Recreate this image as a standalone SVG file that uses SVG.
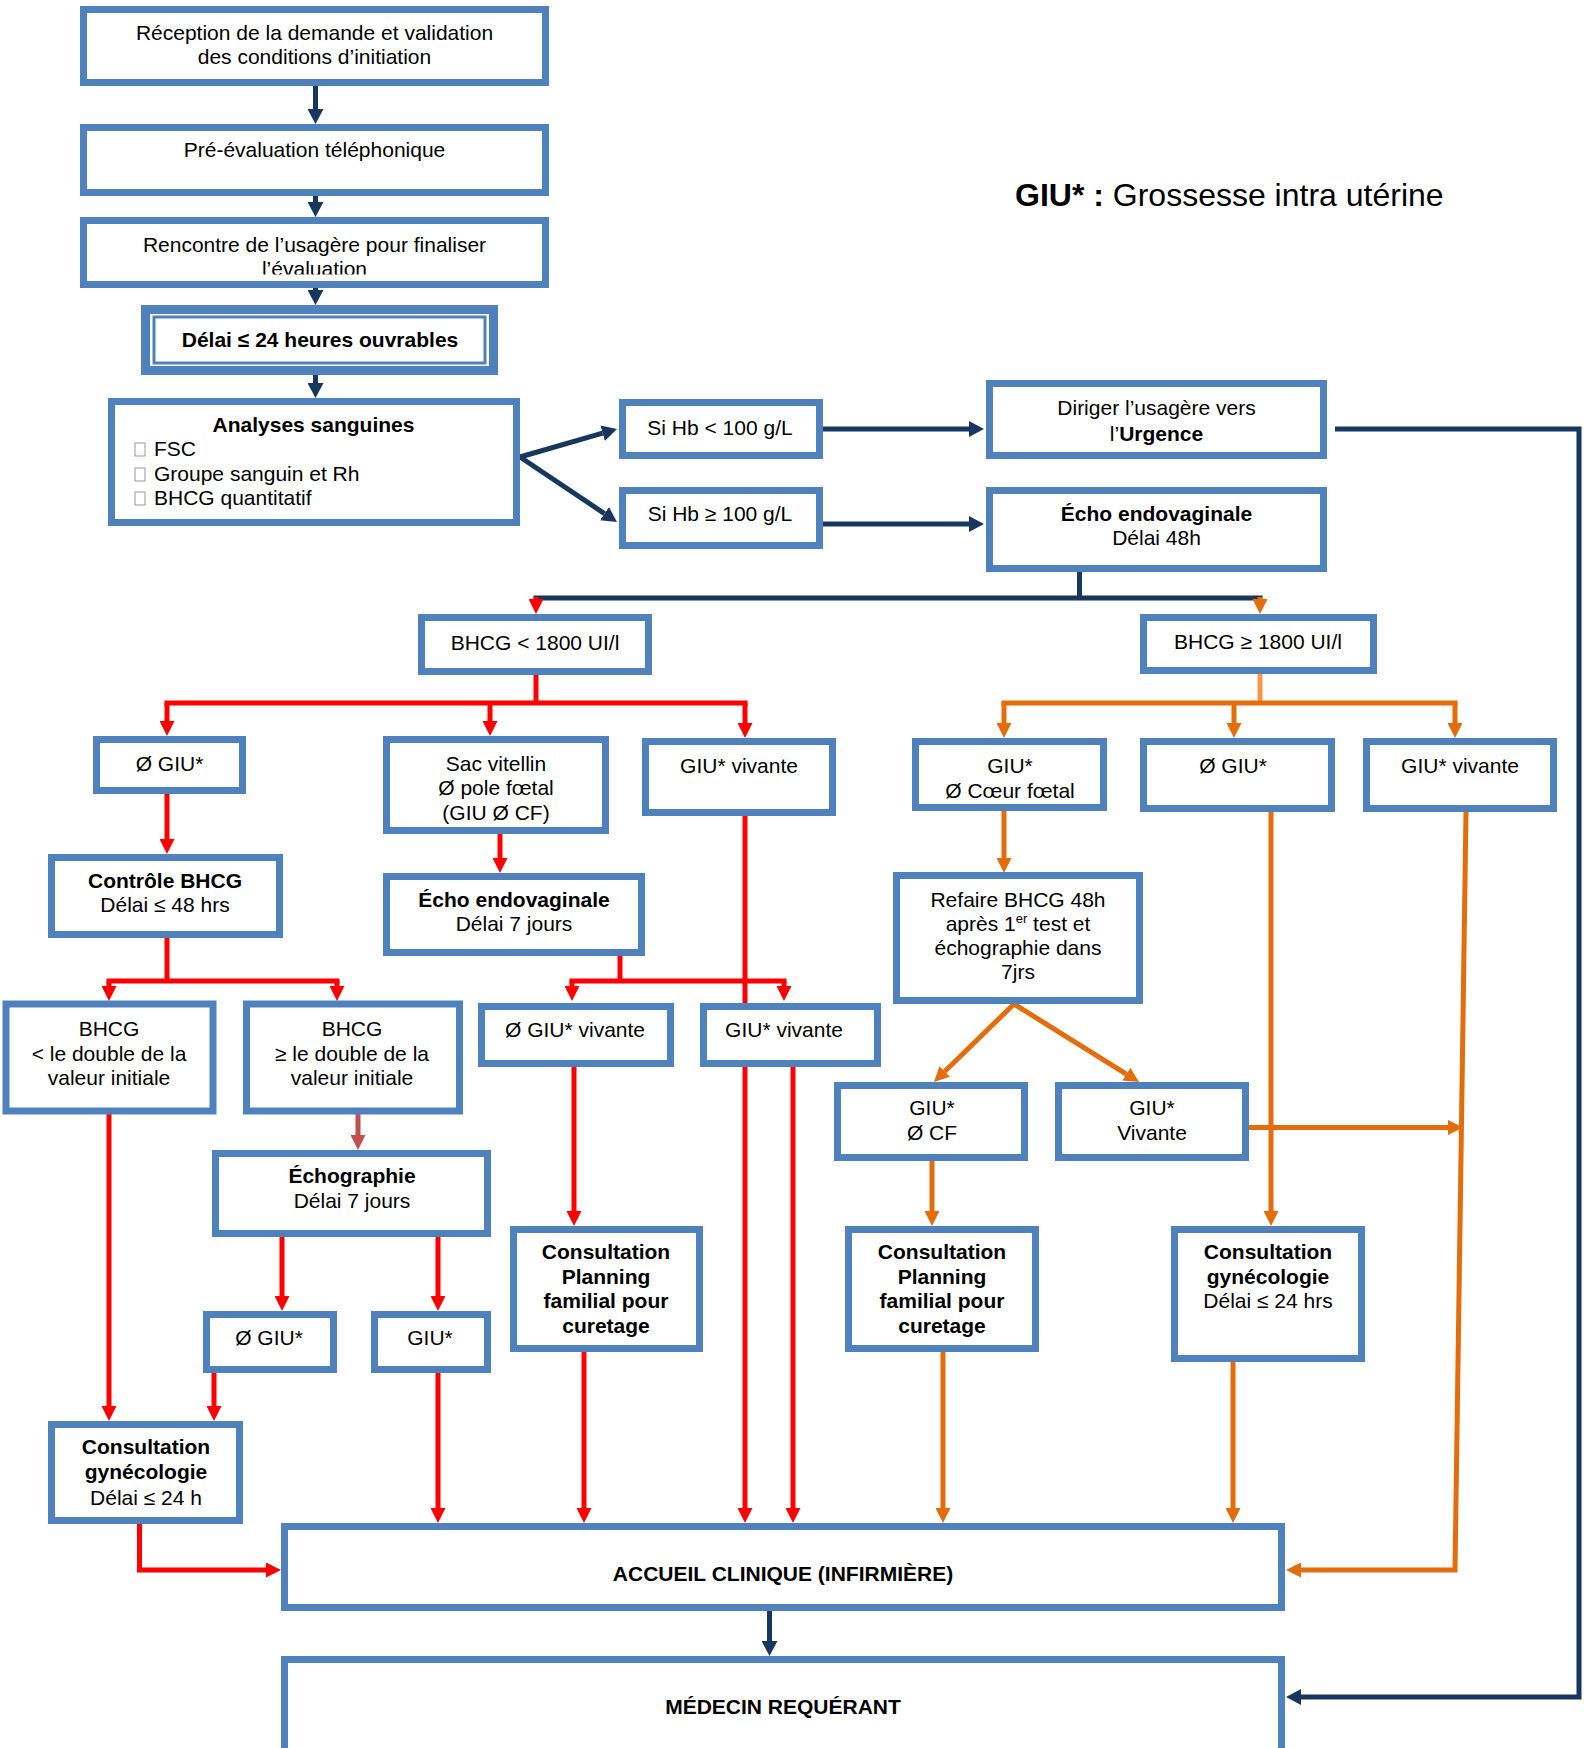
<svg xmlns="http://www.w3.org/2000/svg" width="1588" height="1748" viewBox="0 0 1588 1748">
<style>
.box{fill:#fff;stroke:#4F81BD;stroke-width:7}
.t{font-family:"Liberation Sans",Arial,sans-serif;font-size:21px;fill:#000;text-anchor:middle}
.l{text-anchor:start}
.b{font-weight:bold}
.nv{fill:none;stroke:#17375E;stroke-width:5}
.rd{fill:none;stroke:#FF0000;stroke-width:5}
.or{fill:none;stroke:#E46C0A;stroke-width:5}
.lo{fill:none;stroke:#F79646;stroke-width:5}
.br{fill:none;stroke:#C0504D;stroke-width:5}
.anv{marker-end:url(#mnv)}
.ard{marker-end:url(#mrd)}
.aor{marker-end:url(#mor)}
.abr{marker-end:url(#mbr)}
.chk{fill:#fff;stroke:#999;stroke-width:1}
</style>
<defs>
<marker id="mnv" markerUnits="userSpaceOnUse" markerWidth="15" markerHeight="16" viewBox="0 0 15 16" refX="0" refY="8" orient="auto"><path d="M0,0 L15,8 L0,16 z" fill="#17375E"/></marker>
<marker id="mrd" markerUnits="userSpaceOnUse" markerWidth="15" markerHeight="15" viewBox="0 0 15 15" refX="0" refY="7.5" orient="auto"><path d="M0,0 L15,7.5 L0,15 z" fill="#FF0000"/></marker>
<marker id="mor" markerUnits="userSpaceOnUse" markerWidth="15" markerHeight="15" viewBox="0 0 15 15" refX="0" refY="7.5" orient="auto"><path d="M0,0 L15,7.5 L0,15 z" fill="#E46C0A"/></marker>
<marker id="mbr" markerUnits="userSpaceOnUse" markerWidth="15" markerHeight="15" viewBox="0 0 15 15" refX="0" refY="7.5" orient="auto"><path d="M0,0 L15,7.5 L0,15 z" fill="#C0504D"/></marker>
<clipPath id="clip3"><rect x="80" y="217" width="470" height="57.5"/></clipPath>
</defs>
<rect width="1588" height="1748" fill="#fff"/>

<g id="connectors">
<!-- navy -->
<path class="nv anv" d="M315.5,86 V109"/>
<path class="nv anv" d="M315.5,196 V202"/>
<path class="nv anv" d="M315.5,288 V290"/>
<path class="nv anv" d="M315.5,375 V383"/>
<path class="nv anv" d="M520,457 L602.6,433.2"/>
<path class="nv anv" d="M520,457 L604.5,513.6"/>
<path class="nv anv" d="M823,429 H969"/>
<path class="nv anv" d="M823,524 H969"/>
<path class="nv anv" d="M1335,429 H1579 V1697 H1301"/>
<path class="nv" d="M1079.5,572 V598 M533.5,598 H1262.5"/>
<path class="nv anv" d="M769.5,1611 V1641"/>
<!-- red -->
<path class="rd ard" d="M536,597 V599"/>
<path class="rd" d="M536,675 V703 M164.5,703 H747.5"/>
<path class="rd ard" d="M167,703 V721"/>
<path class="rd ard" d="M490,703 V721"/>
<path class="rd ard" d="M745,703 V723"/>
<path class="rd ard" d="M167,794 V839"/>
<path class="rd ard" d="M500,834 V858"/>
<path class="rd" d="M167,938 V981 M106.5,981 H339.5"/>
<path class="rd ard" d="M109,981 V986"/>
<path class="rd ard" d="M337,981 V986"/>
<path class="rd" d="M620,956 V981 M569.5,981 H786.5"/>
<path class="rd ard" d="M572,981 V986"/>
<path class="rd ard" d="M784,981 V986"/>
<path class="rd ard" d="M745,816 V1508"/>
<path class="rd ard" d="M793,1067 V1508"/>
<path class="rd ard" d="M574,1067 V1211"/>
<path class="rd ard" d="M584,1352 V1508"/>
<path class="br abr" d="M358,1113 V1135"/>
<path class="rd ard" d="M282,1237 V1296"/>
<path class="rd ard" d="M438,1237 V1296"/>
<path class="rd ard" d="M109,1113 V1406"/>
<path class="rd ard" d="M214,1373 V1406"/>
<path class="rd ard" d="M438,1373 V1508"/>
<path class="rd ard" d="M139.5,1524 V1570 H266"/>
<!-- orange -->
<path class="or aor" d="M1260,597 V599"/>
<path class="lo" d="M1260,674 V703"/>
<path class="or" d="M1001.5,703 H1457.5"/>
<path class="or aor" d="M1004,703 V723"/>
<path class="or aor" d="M1234,703 V723"/>
<path class="or aor" d="M1455,703 V723"/>
<path class="or aor" d="M1004,811 V858"/>
<path class="or aor" d="M1014,1004 L944.7,1071.5"/>
<path class="or aor" d="M1014,1004 L1126.3,1074.1"/>
<path class="or aor" d="M932,1161 V1211"/>
<path class="or aor" d="M943,1352 V1508"/>
<path class="or aor" d="M1271,812 V1211"/>
<path class="or aor" d="M1233,1362 V1508"/>
<path class="or aor" d="M1249,1127.5 H1448"/>
<path class="or aor" d="M1466,812 L1455,1570 H1301"/>
</g>

<g id="nodes">
<g id="n1"><rect class="box" x="83.5" y="9.5" width="462" height="73"/>
<text class="t" x="314.5" y="39.5">Réception de la demande et validation</text>
<text class="t" x="314.5" y="64">des conditions d’initiation</text></g>

<g id="n2"><rect class="box" x="83.5" y="127.5" width="462" height="65"/>
<text class="t" x="314.5" y="157">Pré-évaluation téléphonique</text></g>

<g id="n3"><rect class="box" x="83.5" y="220.5" width="462" height="64"/>
<text class="t" x="314.5" y="251.5">Rencontre de l’usagère pour finaliser</text>
<text class="t" x="314.5" y="276" clip-path="url(#clip3)">l’évaluation</text></g>

<g id="n4"><rect class="box" x="145.5" y="309.5" width="348" height="61" style="stroke-width:9"/>
<rect x="154" y="317" width="331" height="46" fill="none" stroke="#4F81BD" stroke-width="3"/>
<text class="t b" x="320" y="346.5">Délai ≤ 24 heures ouvrables</text></g>

<g id="n5"><rect class="box" x="111.5" y="401.5" width="405" height="121"/>
<text class="t b" x="313.5" y="431.5">Analyses sanguines</text>
<rect class="chk" x="135" y="443" width="10" height="13"/>
<rect class="chk" x="135" y="468" width="10" height="13"/>
<rect class="chk" x="135" y="492" width="10" height="13"/>
<text class="t l" x="154" y="455.5">FSC</text>
<text class="t l" x="154" y="480.5">Groupe sanguin et Rh</text>
<text class="t l" x="154" y="504.5">BHCG quantitatif</text></g>

<g id="n6"><rect class="box" x="622.5" y="402.5" width="197" height="53"/>
<text class="t" x="720" y="434.5">Si Hb &lt; 100 g/L</text></g>

<g id="n7"><rect class="box" x="622.5" y="490.5" width="197" height="55"/>
<text class="t" x="720" y="520.5">Si Hb ≥ 100 g/L</text></g>

<g id="n8"><rect class="box" x="989.5" y="383.5" width="334" height="72"/>
<text class="t" x="1156.5" y="414.5">Diriger l’usagère vers</text>
<text class="t" x="1156.5" y="440.5">l’<tspan class="b">Urgence</tspan></text></g>

<g id="n9"><rect class="box" x="989.5" y="490.5" width="334" height="78"/>
<text class="t b" x="1156.5" y="520.5">Écho endovaginale</text>
<text class="t" x="1156.5" y="544.5">Délai 48h</text></g>

<g id="n10"><rect class="box" x="421.5" y="617.5" width="227" height="54"/>
<text class="t" x="535" y="649.5">BHCG &lt; 1800 UI/l</text></g>

<g id="n11"><rect class="box" x="1143.5" y="617.5" width="230" height="53"/>
<text class="t" x="1258" y="648.5">BHCG ≥ 1800 UI/l</text></g>

<g id="n12"><rect class="box" x="96.5" y="739.5" width="146" height="51"/>
<text class="t" x="169.5" y="770.5">Ø GIU*</text></g>

<g id="n13"><rect class="box" x="386.5" y="739.5" width="219" height="91"/>
<text class="t" x="496" y="770.5">Sac vitellin</text>
<text class="t" x="496" y="794.5">Ø pole fœtal</text>
<text class="t" x="496" y="819.5">(GIU Ø CF)</text></g>

<g id="n14"><rect class="box" x="645.5" y="741.5" width="187" height="71"/>
<text class="t" x="739" y="772.5">GIU* vivante</text></g>

<g id="n15"><rect class="box" x="915.5" y="741.5" width="188" height="66"/>
<text class="t" x="1010" y="772.5">GIU*</text>
<text class="t" x="1010" y="797.5">Ø Cœur fœtal</text></g>

<g id="n16"><rect class="box" x="1143.5" y="741.5" width="188" height="67"/>
<text class="t" x="1233" y="772.5">Ø GIU*</text></g>

<g id="n17"><rect class="box" x="1366.5" y="741.5" width="187" height="67"/>
<text class="t" x="1460" y="772.5">GIU* vivante</text></g>

<g id="n18"><rect class="box" x="51.5" y="857.5" width="228" height="77"/>
<text class="t b" x="165" y="887.5">Contrôle BHCG</text>
<text class="t" x="165" y="911.5">Délai ≤ 48 hrs</text></g>

<g id="n19"><rect class="box" x="386.5" y="876.5" width="255" height="76"/>
<text class="t b" x="514" y="906.5">Écho endovaginale</text>
<text class="t" x="514" y="930.5">Délai 7 jours</text></g>

<g id="n20"><rect class="box" x="6" y="1004" width="207" height="107"/>
<text class="t" x="109" y="1036">BHCG</text>
<text class="t" x="109" y="1060.5">&lt; le double de la</text>
<text class="t" x="109" y="1084.5">valeur initiale</text></g>

<g id="n21"><rect class="box" x="246.5" y="1004" width="213" height="107"/>
<text class="t" x="352" y="1036">BHCG</text>
<text class="t" x="352" y="1060.5">≥ le double de la</text>
<text class="t" x="352" y="1084.5">valeur initiale</text></g>

<g id="n22"><rect class="box" x="481.5" y="1006.5" width="189" height="57"/>
<text class="t" x="575" y="1036.5">Ø GIU* vivante</text></g>

<g id="n23"><rect class="box" x="703.5" y="1006.5" width="174" height="57"/>
<text class="t" x="784" y="1036.5">GIU* vivante</text></g>

<g id="n24"><rect class="box" x="215.5" y="1153.5" width="272" height="80"/>
<text class="t b" x="352" y="1182.5">Échographie</text>
<text class="t" x="352" y="1207.5">Délai 7 jours</text></g>

<g id="n25"><rect class="box" x="206.5" y="1314.5" width="127" height="55"/>
<text class="t" x="269" y="1344.5">Ø GIU*</text></g>

<g id="n26"><rect class="box" x="374.5" y="1314.5" width="113" height="55"/>
<text class="t" x="430" y="1344.5">GIU*</text></g>

<g id="n27"><rect class="box" x="51.5" y="1424.5" width="188" height="96"/>
<text class="t b" x="146" y="1453.5">Consultation</text>
<text class="t b" x="146" y="1478.5">gynécologie</text>
<text class="t" x="146" y="1504.5">Délai ≤ 24 h</text></g>

<g id="n28"><rect class="box" x="513.5" y="1229.5" width="186" height="119"/>
<text class="t b" x="606" y="1258.5">Consultation</text>
<text class="t b" x="606" y="1283.5">Planning</text>
<text class="t b" x="606" y="1307.5">familial pour</text>
<text class="t b" x="606" y="1332.5">curetage</text></g>

<g id="n29"><rect class="box" x="896.5" y="875.5" width="243" height="125"/>
<text class="t" x="1018" y="906.5">Refaire BHCG 48h</text>
<text class="t" x="1018" y="930.5">après 1<tspan font-size="13" dy="-8">er</tspan><tspan dy="8"> test et</tspan></text>
<text class="t" x="1018" y="954.5">échographie dans</text>
<text class="t" x="1018" y="978.5">7jrs</text></g>

<g id="n30"><rect class="box" x="837.5" y="1085.5" width="187" height="72"/>
<text class="t" x="932" y="1114.5">GIU*</text>
<text class="t" x="932" y="1139.5">Ø CF</text></g>

<g id="n31"><rect class="box" x="1058.5" y="1085.5" width="187" height="72"/>
<text class="t" x="1152" y="1114.5">GIU*</text>
<text class="t" x="1152" y="1139.5">Vivante</text></g>

<g id="n32"><rect class="box" x="848.5" y="1229.5" width="187" height="119"/>
<text class="t b" x="942" y="1258.5">Consultation</text>
<text class="t b" x="942" y="1283.5">Planning</text>
<text class="t b" x="942" y="1307.5">familial pour</text>
<text class="t b" x="942" y="1332.5">curetage</text></g>

<g id="n33"><rect class="box" x="1174.5" y="1229.5" width="187" height="129"/>
<text class="t b" x="1268" y="1258.5">Consultation</text>
<text class="t b" x="1268" y="1283.5">gynécologie</text>
<text class="t" x="1268" y="1307.5">Délai ≤ 24 hrs</text></g>

<g id="n34"><rect class="box" x="284.5" y="1526.5" width="997" height="81"/>
<text class="t b" x="783" y="1581">ACCUEIL CLINIQUE (INFIRMIÈRE)</text></g>

<g id="n35"><rect class="box" x="284.5" y="1659.5" width="997" height="130"/>
<text class="t b" x="783" y="1713.5">MÉDECIN REQUÉRANT</text></g>

<g id="legend"><text class="t l" x="1015" y="206" style="font-size:32px"><tspan class="b">GIU* :</tspan> Grossesse intra utérine</text></g>
</g>
</svg>
